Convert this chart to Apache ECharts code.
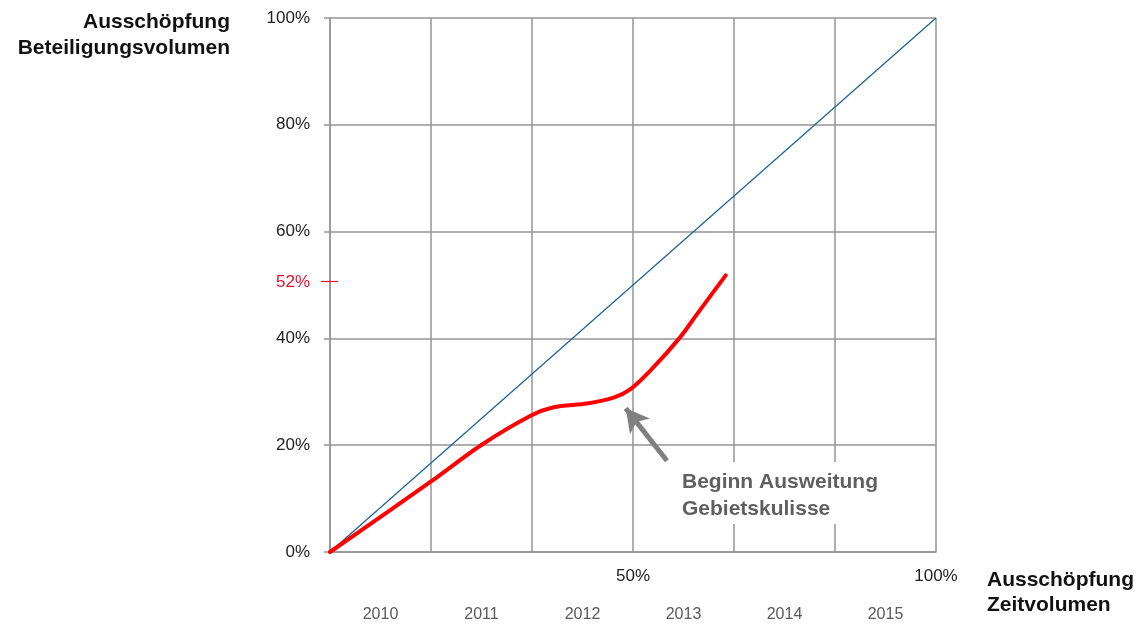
<!DOCTYPE html>
<html>
<head>
<meta charset="utf-8">
<script src="https://cdn.jsdelivr.net/npm/echarts@6/dist/echarts.min.js"></script>
<style>
	html, body { margin:0; padding:0; background:#fff; }
	#main { width:1145px; height:625px; }
</style>
</head>
<body>
<div id="main"></div>
<script>
//Daten
var jahre = ['2010', '2011', '2012', '2013', '2014', '2015'];
var xLabelsShown = [50, 100];
//Zeitvolumen (x, %) / Beteiligungsvolumen (y, %)
var zeitX = [0, 16.8, 24.8, 33.1, 36.9, 42.4, 46.8, 49.6, 52.9, 57.7, 60.6, 65.3];
var beteiligungY = [0, 13.3, 19.9, 25.5, 27.1, 27.8, 28.9, 30.5, 34.0, 40.1, 44.6, 51.8];
var diagonaleX = [0, 100];
var diagonaleY = [0, 100];
var markerWert = 50.7;
var markerText = '52%';
//Pfeil: Ende -> Spitze
var pfeilX = [55.6, 48.8];
var pfeilY = [17.1, 26.9];

var font = 'Liberation Sans, Arial, sans-serif';
var gitter = '#959595';

function paare(xs, ys){
	var out = [];
	for(var i=0;i<xs.length;i++){
		out.push([xs[i], ys[i]]);
	}
	return out;
}

var chartDom = document.getElementById("main");
var myChart = echarts.init(chartDom);
var option = {
	animation: false,
	grid: {
		left: 330,
		right: 209,
		top: 18,
		bottom: 73,
		containLabel: false
	},
	xAxis: [
		{
			type: 'value',
			min: 0,
			max: 100,
			interval: 100/6,
			axisLine: { show: true, lineStyle: { color: gitter, width: 1.5 } },
			axisTick: { show: false },
			splitLine: { show: true, lineStyle: { color: gitter, width: 1.5 } },
			axisLabel: {
				margin: 16,
				fontFamily: font,
				fontSize: 17,
				color: '#222',
				formatter: function(v){
					var r = Math.round(v);
					return xLabelsShown.indexOf(r) >= 0 && Math.abs(v - r) < 0.01 ? r + '%' : '';
				}
			}
		},
		{
			type: 'category',
			position: 'bottom',
			offset: 0,
			data: jahre,
			boundaryGap: true,
			axisLine: { show: false },
			axisTick: { show: false },
			splitLine: { show: false },
			axisLabel: {
				margin: 55,
				fontFamily: font,
				fontSize: 16,
				color: '#595959'
			}
		}
	],
	yAxis: {
		type: 'value',
		min: 0,
		max: 100,
		interval: 20,
		axisLine: { show: true, lineStyle: { color: gitter, width: 1.5 } },
		axisTick: { show: true, length: 6, lineStyle: { color: gitter, width: 1.5 } },
		splitLine: { show: true, lineStyle: { color: gitter, width: 1.5 } },
		axisLabel: {
			margin: 20,
			fontFamily: font,
			fontSize: 17,
			color: '#222',
			formatter: '{value}%'
		}
	},
	series: [
		{
			name: 'Diagonale',
			type: 'line',
			xAxisIndex: 0,
			showSymbol: false,
			lineStyle: { color: '#1B5E96', width: 1.2 },
			data: paare(diagonaleX, diagonaleY),
			z: 3
		},
		{
			name: 'Ausschöpfung',
			type: 'line',
			xAxisIndex: 0,
			smooth: 0.3,
			showSymbol: false,
			lineStyle: { color: '#FF0000', width: 4, cap: 'round' },
			data: paare(zeitX, beteiligungY),
			z: 4,
			markLine: {
				silent: true,
				symbol: ['none', 'none'],
				animation: false,
				lineStyle: { color: '#E8102A', width: 1.2, type: 'solid' },
				label: { show: false },
				data: [[
					{ coord: [0, markerWert], x: 321 },
					{ coord: [0, markerWert], x: 338 }
				]]
			}
		},
		{
			name: 'Pfeil',
			type: 'line',
			xAxisIndex: 0,
			showSymbol: false,
			lineStyle: { opacity: 0 },
			data: [],
			z: 6,
			markLine: {
				silent: true,
				symbol: ['none', 'arrow'],
				symbolSize: [19, 23],
				animation: false,
				lineStyle: { color: '#808080', width: 5, type: 'solid' },
				label: { show: false },
				data: [[
					{ coord: [pfeilX[0], pfeilY[0]] },
					{ coord: [pfeilX[1], pfeilY[1]] }
				]]
			}
		}
	],
	graphic: [
		{
			type: 'text',
			right: 1145 - 230,
			top: 12,
			z: 10,
			style: {
				text: 'Ausschöpfung',
				font: 'bold 21px ' + font,
				fill: '#111'
			}
		},
		{
			type: 'text',
			right: 1145 - 230,
			top: 38,
			z: 10,
			style: {
				text: 'Beteiligungsvolumen',
				font: 'bold 21px ' + font,
				fill: '#111'
			}
		},
		{
			type: 'text',
			left: 987,
			top: 568,
			z: 10,
			style: {
				text: 'Ausschöpfung\nZeitvolumen',
				font: 'bold 21px ' + font,
				fill: '#111',
				lineHeight: 25
			}
		},
		{
			type: 'rect',
			left: 672,
			top: 462,
			z: 5,
			shape: { width: 222, height: 62 },
			style: { fill: '#fff' }
		},
		{
			type: 'text',
			left: 682,
			top: 469,
			z: 10,
			style: {
				text: 'Beginn Ausweitung\nGebietskulisse',
				font: 'bold 21px ' + font,
				fill: '#5f5f5f',
				lineHeight: 27
			}
		},
		{
			type: 'text',
			right: 1145 - 310,
			top: 274,
			z: 10,
			style: {
				text: markerText,
				font: '17px ' + font,
				fill: '#E8102A'
			}
		}
	]
};
myChart.setOption(option);
</script>
</body>
</html>
